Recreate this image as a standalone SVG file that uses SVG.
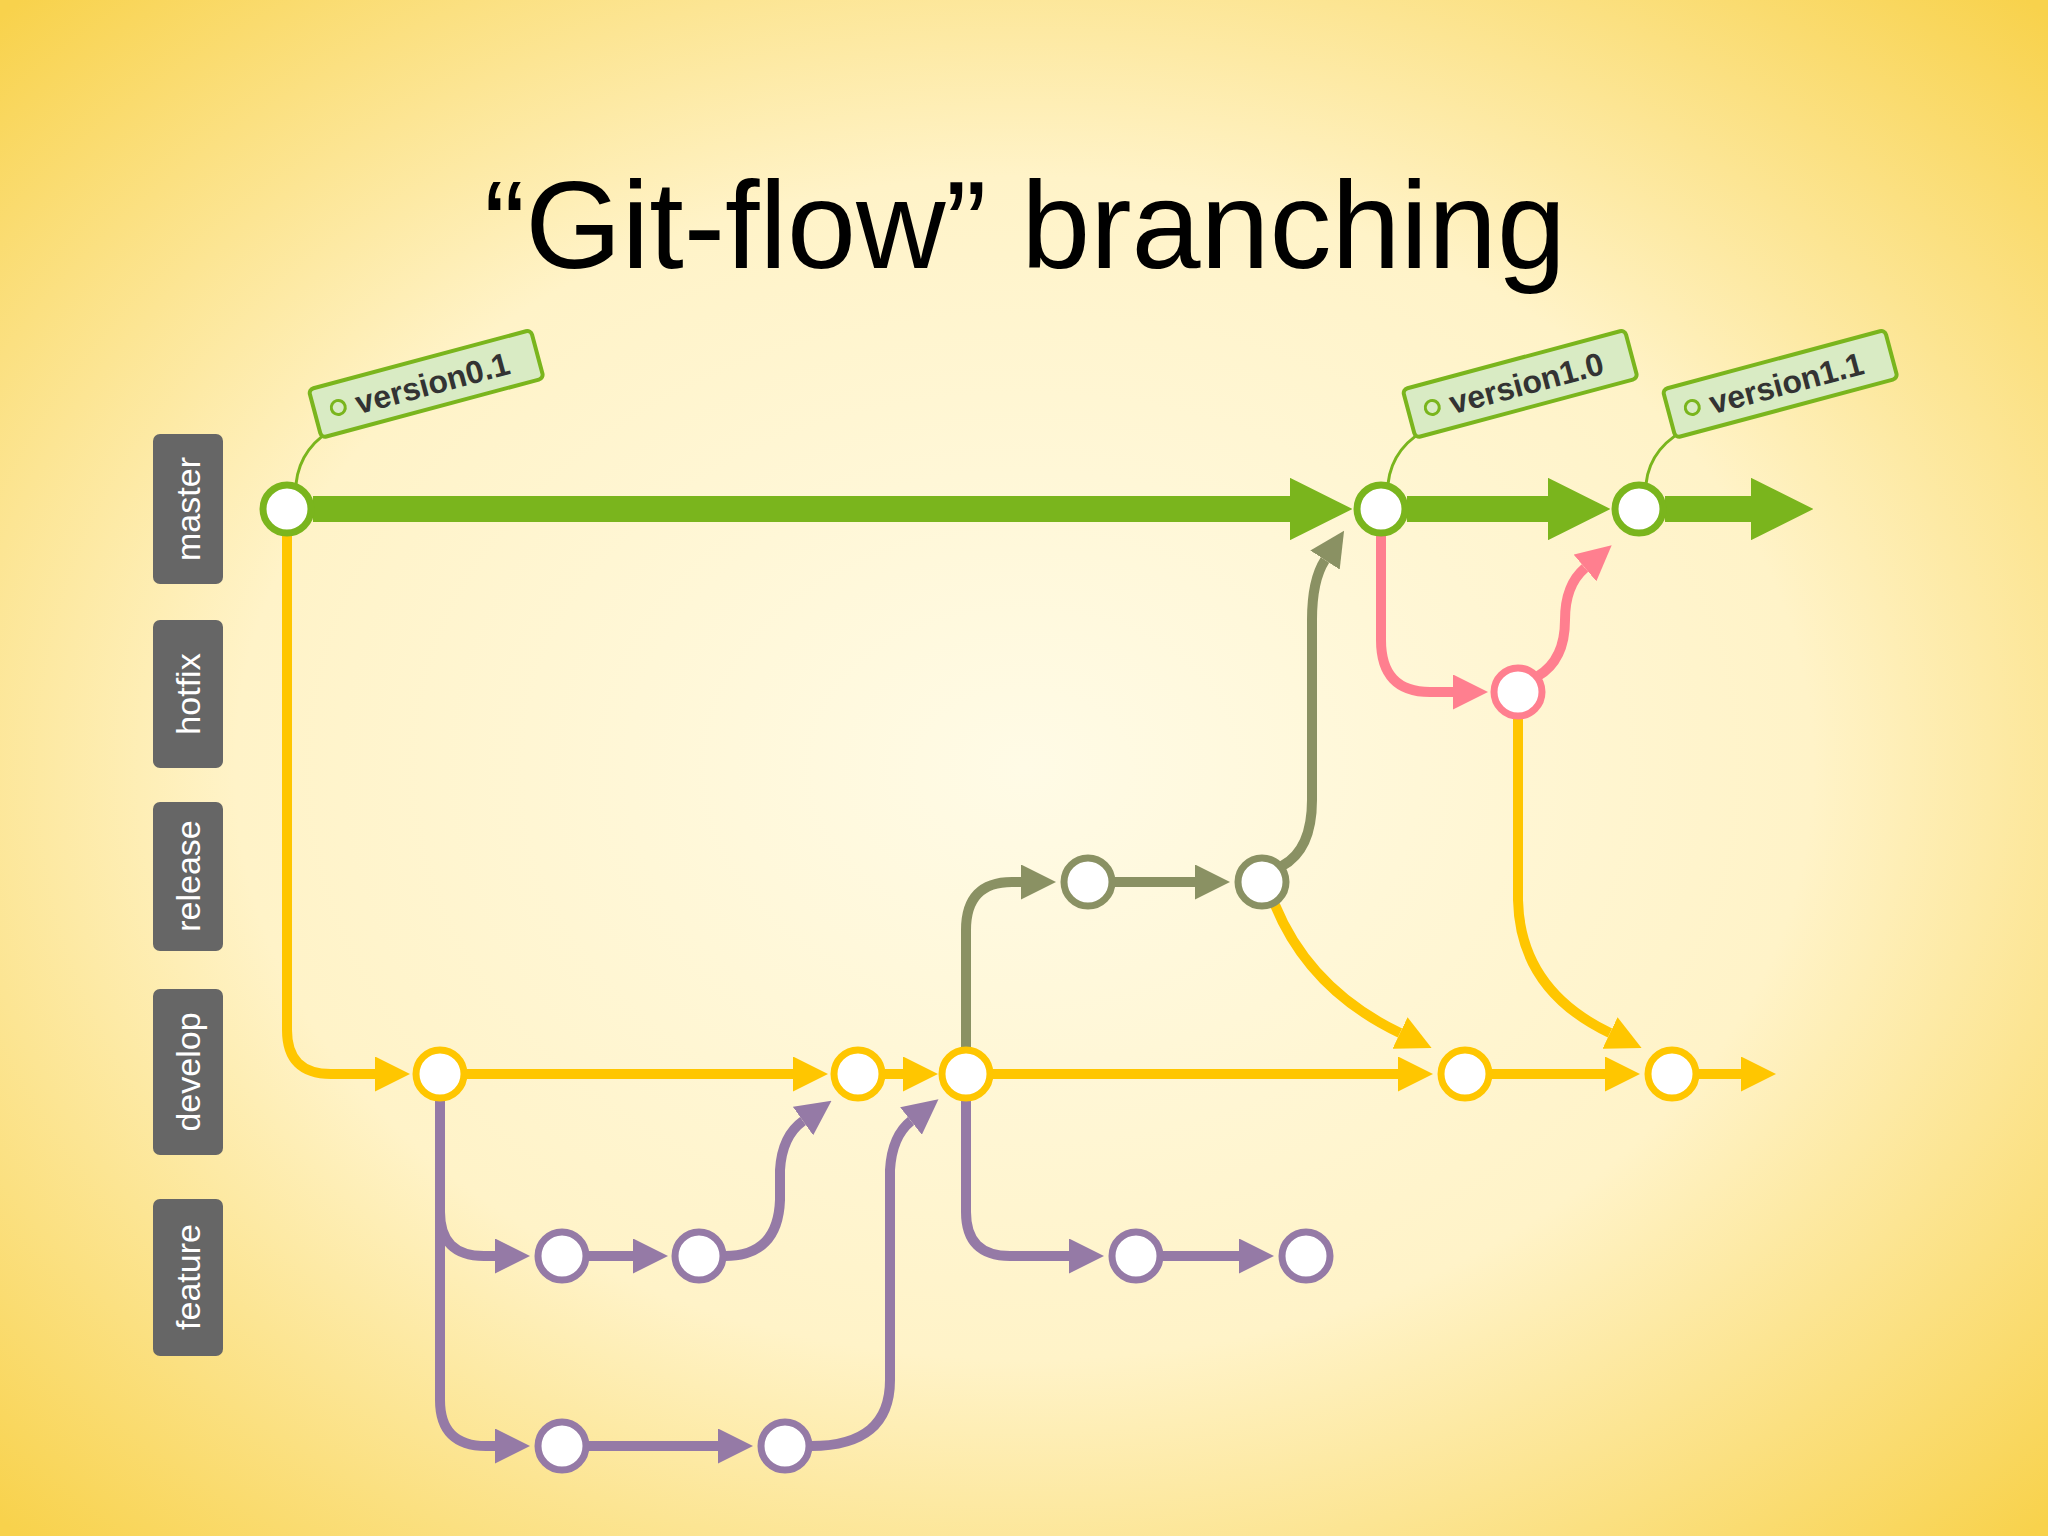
<svg xmlns="http://www.w3.org/2000/svg" width="2048" height="1536" viewBox="0 0 2048 1536">
<defs>
<radialGradient id="bg" cx="50%" cy="50%" r="70%">
<stop offset="0" stop-color="#fffbe6"/><stop offset="0.55" stop-color="#fff3c8"/><stop offset="1" stop-color="#f8d24c"/>
</radialGradient>
<marker id="aG" viewBox="0 0 10 10" refX="0" refY="5" markerWidth="2.4" markerHeight="2.4" orient="auto"><path d="M0,0 L10,5 L0,10 z" fill="#7ab51d"/></marker>
<marker id="aY" viewBox="0 0 10 10" refX="0" refY="5" markerWidth="3.5" markerHeight="3.5" orient="auto"><path d="M0,0 L10,5 L0,10 z" fill="#ffc600"/></marker>
<marker id="aP" viewBox="0 0 10 10" refX="0" refY="5" markerWidth="3.5" markerHeight="3.5" orient="auto"><path d="M0,0 L10,5 L0,10 z" fill="#957aa6"/></marker>
<marker id="aO" viewBox="0 0 10 10" refX="0" refY="5" markerWidth="3.5" markerHeight="3.5" orient="auto"><path d="M0,0 L10,5 L0,10 z" fill="#8a9163"/></marker>
<marker id="aK" viewBox="0 0 10 10" refX="0" refY="5" markerWidth="3.5" markerHeight="3.5" orient="auto"><path d="M0,0 L10,5 L0,10 z" fill="#ff7f8f"/></marker>
</defs>
<style>
.c{fill:none;stroke-width:10;stroke-linecap:butt}
.g{stroke:#7ab51d}.y{stroke:#ffc600}.p{stroke:#957aa6}.o{stroke:#8a9163}.k{stroke:#ff7f8f}
.n{fill:#fff;stroke-width:7}
.lab rect{fill:#666}
.lab text{font-family:"Liberation Sans",Arial,sans-serif;font-size:34px;fill:#fff;text-anchor:middle}
.tag rect{fill:#d9ebc4;stroke:#7ab51d;stroke-width:4}
.tag text{font-family:"Liberation Sans",Arial,sans-serif;font-size:32px;font-weight:bold;fill:#333}
</style>
<rect width="2048" height="1536" fill="url(#bg)"/>
<text x="1025" y="268" font-family="Liberation Sans, Arial, sans-serif" font-size="124" text-anchor="middle" fill="#000">“Git-flow” branching</text>

<g id="labels">
<g class="lab" id="lab-master"><rect x="153" y="434" width="70" height="150" rx="7"/><text transform="translate(200,509) rotate(-90)">master</text></g>
<g class="lab" id="lab-hotfix"><rect x="153" y="620" width="70" height="148" rx="7"/><text transform="translate(200,694) rotate(-90)">hotfix</text></g>
<g class="lab" id="lab-release"><rect x="153" y="802" width="70" height="149" rx="7"/><text transform="translate(200,876) rotate(-90)">release</text></g>
<g class="lab" id="lab-develop"><rect x="153" y="989" width="70" height="166" rx="7"/><text transform="translate(200,1072) rotate(-90)">develop</text></g>
<g class="lab" id="lab-feature"><rect x="153" y="1199" width="70" height="157" rx="7"/><text transform="translate(200,1277) rotate(-90)">feature</text></g>
</g>

<g id="connectors">
<path class="c g" style="stroke-width:26" d="M313,509 H1290" marker-end="url(#aG)"/>
<path class="c g" style="stroke-width:26" d="M1407,509 H1548" marker-end="url(#aG)"/>
<path class="c g" style="stroke-width:26" d="M1665,509 H1751" marker-end="url(#aG)"/>
<path class="c y" d="M287,535 V1030 Q287,1074 331,1074 H375" marker-end="url(#aY)"/>
<path class="c y" d="M466,1074 H793" marker-end="url(#aY)"/>
<path class="c y" d="M884,1074 H903" marker-end="url(#aY)"/>
<path class="c y" d="M992,1074 H1398" marker-end="url(#aY)"/>
<path class="c y" d="M1491,1074 H1605" marker-end="url(#aY)"/>
<path class="c y" d="M1698,1074 H1741" marker-end="url(#aY)"/>
<path class="c y" d="M1275,905 Q1310,990 1400,1033" marker-end="url(#aY)"/>
<path class="c y" d="M1518,718 V900 Q1520,990 1610,1033" marker-end="url(#aY)"/>
<path class="c p" d="M440,1100 V1212 Q440,1256 484,1256 H495" marker-end="url(#aP)"/>
<path class="c p" d="M440,1200 V1400 Q440,1446 486,1446 H495" marker-end="url(#aP)"/>
<path class="c p" d="M588,1256 H633" marker-end="url(#aP)"/>
<path class="c p" d="M588,1446 H718" marker-end="url(#aP)"/>
<path class="c p" d="M725,1256 Q778,1256 780,1200 V1170 Q782,1136 803,1121" marker-end="url(#aP)"/>
<path class="c p" d="M811,1446 Q890,1446 890,1380 V1170 Q892,1136 911,1121" marker-end="url(#aP)"/>
<path class="c p" d="M966,1100 V1212 Q966,1256 1010,1256 H1069" marker-end="url(#aP)"/>
<path class="c p" d="M1162,1256 H1239" marker-end="url(#aP)"/>
<path class="c o" d="M966,1048 V930 Q966,882 1012,882 H1021" marker-end="url(#aO)"/>
<path class="c o" d="M1114,882 H1195" marker-end="url(#aO)"/>
<path class="c o" d="M1282,866 Q1312,850 1312,800 V620 Q1312,580 1325,560" marker-end="url(#aO)"/>
<path class="c k" d="M1381,535 V640 Q1381,692 1430,692 H1453" marker-end="url(#aK)"/>
<path class="c k" d="M1538,676 Q1565,660 1565,620 Q1565,585 1585,568" marker-end="url(#aK)"/>
<path fill="none" stroke="#7ab51d" stroke-width="3" d="M296,484 Q300,445 340,425"/>
<path fill="none" stroke="#7ab51d" stroke-width="3" d="M1388,484 Q1392,445 1434,425"/>
<path fill="none" stroke="#7ab51d" stroke-width="3" d="M1646,484 Q1650,445 1694,425"/>
</g>

<g id="tags">
<g class="tag" id="tag-v01" transform="translate(320,432) rotate(-15)"><rect x="0" y="-44" width="230" height="50" rx="5"/><circle cx="24" cy="-19" r="7" fill="none" stroke="#7ab51d" stroke-width="3"/><text x="42" y="-7">version0.1</text></g>
<g class="tag" id="tag-v10" transform="translate(1414,432) rotate(-15)"><rect x="0" y="-44" width="230" height="50" rx="5"/><circle cx="24" cy="-19" r="7" fill="none" stroke="#7ab51d" stroke-width="3"/><text x="42" y="-7">version1.0</text></g>
<g class="tag" id="tag-v11" transform="translate(1674,432) rotate(-15)"><rect x="0" y="-44" width="230" height="50" rx="5"/><circle cx="24" cy="-19" r="7" fill="none" stroke="#7ab51d" stroke-width="3"/><text x="42" y="-7">version1.1</text></g>
</g>

<g id="nodes">
<g id="m1"><circle class="n" cx="287" cy="509" r="24" stroke="#7ab51d"/></g>
<g id="m2"><circle class="n" cx="1381" cy="509" r="24" stroke="#7ab51d"/></g>
<g id="m3"><circle class="n" cx="1639" cy="509" r="24" stroke="#7ab51d"/></g>
<g id="h1"><circle class="n" cx="1518" cy="692" r="24" stroke="#ff7f8f"/></g>
<g id="r1"><circle class="n" cx="1088" cy="882" r="24" stroke="#8a9163"/></g>
<g id="r2"><circle class="n" cx="1262" cy="882" r="24" stroke="#8a9163"/></g>
<g id="d1"><circle class="n" cx="440" cy="1074" r="24" stroke="#ffc600"/></g>
<g id="d2"><circle class="n" cx="858" cy="1074" r="24" stroke="#ffc600"/></g>
<g id="d3"><circle class="n" cx="966" cy="1074" r="24" stroke="#ffc600"/></g>
<g id="d4"><circle class="n" cx="1465" cy="1074" r="24" stroke="#ffc600"/></g>
<g id="d5"><circle class="n" cx="1672" cy="1074" r="24" stroke="#ffc600"/></g>
<g id="f1"><circle class="n" cx="562" cy="1256" r="24" stroke="#957aa6"/></g>
<g id="f2"><circle class="n" cx="699" cy="1256" r="24" stroke="#957aa6"/></g>
<g id="f3"><circle class="n" cx="1136" cy="1256" r="24" stroke="#957aa6"/></g>
<g id="f4"><circle class="n" cx="1306" cy="1256" r="24" stroke="#957aa6"/></g>
<g id="f5"><circle class="n" cx="562" cy="1446" r="24" stroke="#957aa6"/></g>
<g id="f6"><circle class="n" cx="785" cy="1446" r="24" stroke="#957aa6"/></g>
</g>
</svg>
